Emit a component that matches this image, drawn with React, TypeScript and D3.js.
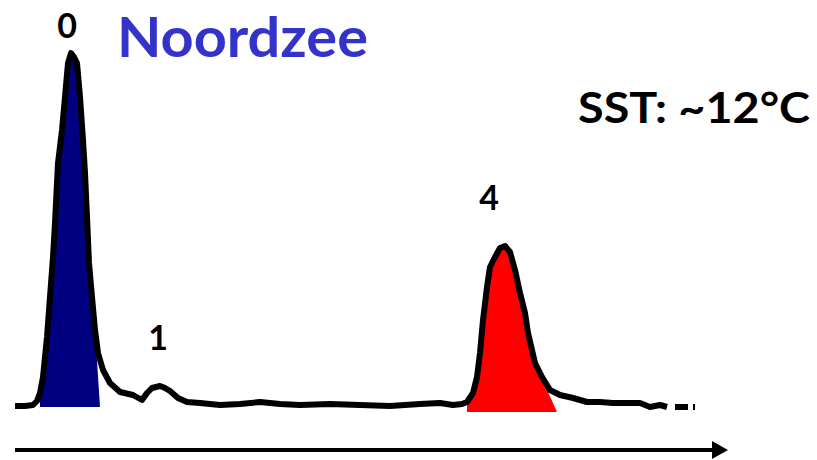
import { useEffect, useRef } from "react";
import * as d3 from "d3";

// chromatogram trace: t = retention (arbitrary units), s = signal
const traceT = [0, 10, 18, 22, 25, 28, 32, 35, 38, 40, 43, 47, 50, 53, 56, 59, 62, 65, 68, 70, 72, 74, 77, 80, 83, 88, 95, 105, 118, 127, 132, 137, 145, 150, 155, 163, 172, 185, 205, 225, 245, 265, 285, 315, 345, 375, 405, 425, 438, 447, 452, 458, 462, 465, 468, 472, 475, 480, 485, 490, 495, 500, 505, 510, 513, 517, 520, 527, 535, 545, 558, 572, 585, 598, 625, 635, 645, 652];
const traceS = [-1, -1, 0, 4, 12, 28, 68, 108, 148, 182, 242, 275, 308, 342, 352, 348, 342, 308, 265, 232, 188, 142, 108, 75, 52, 35, 22, 13, 10, 5, 12, 17, 19, 17, 14, 7, 3, 2, 0, 1, 3, 1, 0, 1, 0, -1, 1, 2, 0, 1, 3, 12, 28, 52, 85, 118, 138, 148, 157, 159, 153, 135, 112, 92, 72, 55, 42, 28, 15, 10, 7, 3, 3, 2, 2, -2, 0, -2];
const tailT = [660, 680];
const tailS = [-2, -2];

// shaded peaks
const peakNames = ["0", "4"];
const fillFrom = [25, 452];
const fillTo = [82, 520];
const fillBaseEnd = [85, 542];
const fillBase = [-2, -7];
const fillColors = ["#000080", "#ff0000"];

// peak labels
const labelText = ["0", "1", "4"];
const labelT = [52, 143, 474];
const labelS = [367, 55, 195];

const title = "Noordzee";
const sstText = "SST: ~12°C";

const W = 817, H = 460;
const FONT = "Lato, 'Open Sans', sans-serif";

export default function App() {
  const ref = useRef<SVGSVGElement>(null);

  useEffect(() => {
    const svg = d3.select(ref.current);
    svg.selectAll("*").remove();

    const x = d3.scaleLinear().domain([0, 680]).range([15, 695]);
    const y = d3.scaleLinear().domain([0, 353]).range([405, 52]);

    const pts = traceT.map((t, i) => [t, traceS[i]] as [number, number]);
    const line = d3.line<[number, number]>().x(d => x(d[0])).y(d => y(d[1]));

    // fills under peaks
    peakNames.forEach((p, k) => {
      const inner = pts.filter(d => d[0] >= fillFrom[k] && d[0] <= fillTo[k]);
      const poly: [number, number][] = [[fillFrom[k], fillBase[k]], ...inner, [fillBaseEnd[k], fillBase[k]]];
      svg.append("path")
        .attr("d", line(poly) + "Z")
        .attr("fill", fillColors[k])
        .attr("stroke", "none");
    });

    svg.append("path")
      .datum(pts)
      .attr("d", line)
      .attr("fill", "none")
      .attr("stroke", "#000")
      .attr("stroke-width", 6)
      .attr("stroke-linejoin", "round");

    svg.append("path")
      .datum(tailT.map((t, i) => [t, tailS[i]] as [number, number]))
      .attr("d", line)
      .attr("fill", "none")
      .attr("stroke", "#000")
      .attr("stroke-width", 6)
      .attr("stroke-dasharray", "13,5");

    // axis arrow
    svg.append("line")
      .attr("x1", 15).attr("x2", 716)
      .attr("y1", 450).attr("y2", 450)
      .attr("stroke", "#000").attr("stroke-width", 4);
    svg.append("path")
      .attr("d", "M712,441 L728,450 L712,459 Z")
      .attr("fill", "#000");

    svg.selectAll("text.lbl")
      .data(labelText)
      .enter().append("text")
      .attr("class", "lbl")
      .attr("x", (d, i) => x(labelT[i]))
      .attr("y", (d, i) => y(labelS[i]))
      .attr("text-anchor", "middle")
      .attr("font-family", FONT)
      .attr("font-weight", "bold")
      .attr("font-size", 34)
      .attr("fill", "#000")
      .text(d => d);

    svg.append("text")
      .attr("x", 117).attr("y", 57)
      .attr("font-family", FONT)
      .attr("font-weight", "bold")
      .attr("font-size", 56)
      .attr("textLength", 251)
      .attr("lengthAdjust", "spacingAndGlyphs")
      .attr("fill", "#3333cc")
      .text(title);

    svg.append("text")
      .attr("x", 578).attr("y", 123)
      .attr("font-family", FONT)
      .attr("font-weight", "bold")
      .attr("font-size", 42)
      .attr("textLength", 232)
      .attr("lengthAdjust", "spacingAndGlyphs")
      .attr("fill", "#000")
      .text(sstText);
  }, []);

  return (
    <svg ref={ref} width={W} height={H}
      style={{ position: "absolute", left: 0, top: 0, background: "#fff" }} />
  );
}
